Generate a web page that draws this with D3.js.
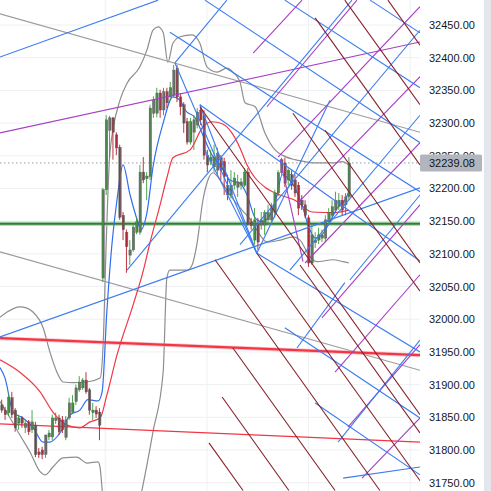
<!DOCTYPE html>
<html><head><meta charset="utf-8">
<script src="https://cdn.jsdelivr.net/npm/d3@7"></script>
<style>html,body{margin:0;padding:0;background:#fff;}svg{display:block;}</style>
</head><body>
<svg id="c" width="491" height="491"></svg>
<script>
// ---------- DATA ----------
const priceTicks = [31750,31800,31850,31900,31950,32000,32050,32100,32150,32200,32250,32300,32350,32400,32450];
const timeGrid = [30.6, 60.8, 90.9, 121.1];
const lastPrice = 32239.08;
// [open, high, low, close]
const candles = [
[31869,31877,31857,31861],[31861,31866,31846,31854],[31857,31887,31852,31880],[31880,31889,31849,31854],
[31861,31864,31828,31834],[31841,31854,31831,31849],[31849,31852,31834,31841],[31834,31846,31826,31841],
[31843,31846,31823,31828],[31831,31861,31826,31843],[31838,31843,31789,31793],[31797,31803,31788,31793],
[31800,31805,31786,31793],[31793,31800,31788,31823],[31820,31831,31815,31826],[31820,31854,31815,31849],
[31845,31857,31840,31849],[31849,31854,31823,31828],[31846,31852,31826,31831],[31819,31852,31815,31846],
[31849,31880,31846,31872],[31858,31884,31855,31872],[31874,31900,31869,31895],[31892,31913,31889,31904],
[31895,31910,31892,31907],[31907,31919,31886,31889],[31892,31895,31854,31861],[31857,31872,31846,31861],
[31861,31867,31849,31855],[31858,31864,31815,31838],[32063,32201,32057,32198],[32198,32312,32190,32305],
[32289,32311,32247,32308],[32308,32309,32244,32286],[32282,32286,32251,32262],[32263,32267,32152,32156],
[32159,32164,32121,32137],[32133,32137,32071,32111],[32098,32121,32083,32106],[32106,32144,32103,32141],
[32133,32155,32130,32149],[32133,32236,32129,32225],[32225,32248,32208,32213],[32215,32225,32182,32219],
[32218,32328,32213,32323],[32315,32341,32308,32335],[32315,32354,32309,32346],[32346,32351,32308,32320],
[32320,32354,32312,32348],[32348,32354,32323,32331],[32340,32363,32335,32354],[32343,32389,32340,32381],
[32384,32389,32332,32340],[32340,32346,32312,32325],[32328,32332,32285,32300],[32302,32308,32267,32271],
[32271,32308,32267,32302],[32286,32312,32259,32305],[32297,32323,32292,32317],[32320,32328,32297,32305],
[32312,32320,32244,32251],[32251,32259,32225,32236],[32241,32259,32236,32248],[32233,32267,32225,32248],
[32228,32262,32221,32254],[32247,32251,32213,32228],[32241,32247,32190,32218],[32205,32221,32182,32190],
[32190,32228,32185,32205],[32205,32225,32198,32216],[32202,32221,32187,32210],[32205,32216,32198,32210],
[32205,32231,32202,32225],[32225,32231,32143,32147],[32149,32155,32137,32143],[32121,32170,32114,32152],
[32147,32155,32106,32118],[32144,32164,32137,32152],[32144,32167,32129,32163],[32152,32175,32144,32163],
[32152,32178,32149,32170],[32163,32198,32155,32193],[32193,32228,32188,32224],[32224,32247,32221,32244],
[32239,32247,32202,32208],[32213,32231,32205,32228],[32221,32228,32198,32205],[32213,32221,32187,32193],
[32205,32210,32159,32170],[32182,32190,32167,32175],[32175,32182,32155,32159],[32155,32159,32080,32086],
[32086,32144,32083,32129],[32117,32133,32109,32121],[32121,32140,32115,32129],[32124,32137,32118,32129],
[32124,32159,32118,32152],[32149,32170,32143,32163],[32159,32182,32155,32172],[32167,32195,32164,32182],
[32172,32193,32167,32182],[32182,32190,32159,32167],[32175,32193,32159,32187],[32187,32248,32182,32239.08]
];
// [bar index, price]
const blueMA = [[-0.6,31926],[0.9,31910],[3.3,31858],[6.2,31849],[9.2,31835],[12.2,31812],[14.2,31812],[17.2,31826],
[20.2,31854],[23.1,31861],[25.5,31877],[28.5,31875],[29.7,31889],[31.1,32011],[32.6,32114],[34.1,32182],[35.9,32236],
[38.0,32190],[40.3,32149],[41.2,32137],[43.0,32163],[44.8,32233],[47.8,32300],[50.7,32340],[52.8,32335],[54.3,32320],
[57.3,32308],[60.2,32274],[62.3,32251],[64.7,32236],[67.6,32213],[70.6,32208],[72.7,32190],[75.1,32155],[77.1,32149],
[79.5,32159],[81.6,32190],[83.1,32221],[84.8,32216],[86.9,32201],[89.0,32175],[90.8,32144],[92.9,32124],[94.9,32129],
[97.3,32149],[99.7,32172],[101.7,32182],[102.9,32195]];
const redMA = [[-0.6,31938],[5.3,31919],[11.3,31889],[15.1,31858],[19.3,31838],[23.1,31834],[26.1,31843],[29.1,31849],
[31.1,31884],[34.1,31945],[38.9,32022],[41.8,32072],[43.9,32117],[46.9,32175],[48.9,32216],[50.7,32247],[55.8,32259],
[59.6,32294],[62.3,32302],[65.3,32299],[68.2,32285],[70.6,32262],[72.7,32236],[75.1,32216],[78.0,32202],[82.5,32190],
[86.9,32182],[92.0,32164],[97.9,32163],[102.9,32167]];
const bbUpper = [[-0.6,32003],[1.5,32011],[5.3,32019],[7.4,32017],[9.2,32011],[12.2,31987],[14.2,31950],[16.3,31919],
[18.1,31904],[21.1,31903],[25.2,31904],[29.1,31910],[30.0,31961],[30.9,32114],[32.0,32254],[35.0,32335],[37.1,32361],
[40.9,32386],[43.0,32412],[44.8,32442],[46.3,32447],[47.8,32439],[49.2,32393],[50.7,32422],[52.8,32432],[56.4,32435],
[58.7,32422],[60.8,32386],[63.8,32378],[66.7,32384],[68.5,32378],[70.6,32363],[72.1,32331],[75.1,32325],[78.0,32285],
[81.0,32259],[83.1,32251],[86.9,32244],[89.9,32241],[92.0,32239],[97.9,32239],[100.9,32241],[102.9,32236]];
const bbLower = [[-0.6,31874],[2.4,31849],[5.3,31823],[8.3,31797],[11.3,31767],[12.8,31762],[15.1,31774],[18.1,31788],
[22.2,31789],[25.2,31780],[28.5,31782],[29.1,31773],[30.0,31724],[35.0,31632],[40.9,31724],[44.8,31828],[47.8,31919],
[48.9,32063],[49.8,32075],[54.9,32075],[56.4,32083],[57.8,32114],[59.6,32182],[61.1,32213],[62.6,32224],[64.7,32213],
[67.6,32190],[71.2,32167],[74.2,32149],[76.5,32129],[78.6,32118],[82.5,32121],[86.3,32126],[88.4,32121],[91.4,32095],
[93.4,32088],[98.2,32091],[101.2,32088],[102.9,32086]];
// drawn trend lines: [index1, price1, index2, price2]
const greyLines = [[-0.6,32467,124,32286],[-0.6,32103,124,31922]];
const greenLevel = [[-0.6,32146,124,32146]];
const redThick = [[-0.6,31971,124,31945]];
const redThin = [[-0.6,31840,124,31812]];
const purpleLines = [[-0.6,32285,124,32424],
[74.5,32407,89.0,32488],[78.6,32325,105.3,32488],[81.9,32248,124,32478],[87.8,32178,124,32371],
[89.9,32086,124,32270],[98.8,31919,124,32068],[102.6,31835,124,31961],[106.8,31757,124,31849],
[94.9,32002,124,32175],[82.5,32244,89.3,32088]];
const blueLines = [[-0.6,32401,46.3,32488],[-0.6,31973,124,32201],
[49.8,32439,124,32195],[60.2,32488,124,32270],[83.9,32488,124,32354],[109.2,32488,124,32438],
[58.7,32328,124,32089],[75.6,32101,124,31950],[83.9,31987,124,31849],[92.9,31872,124,31762],
[51.3,32392,75.6,32101],[58.7,32328,75.6,32101],[60.2,32259,75.6,32101],
[37.1,32075,103.8,32488],[51.3,32392,66.7,32488],[75.6,32101,97.3,32335],[70.6,32114,124,32442],
[85.4,32075,124,32312],[103.2,32060,124,32190],[87.5,31956,101.7,32056],[99.7,31812,124,31968],
[101.2,31757,124,31774]];
const maroonLines = [[114.5,32488,124,32419],[101.7,32488,124,32328],[92.9,32461,124,32236],[86.3,32315,124,32043],
[58.7,32325,124,31854],[63.2,32091,112.1,31738],[68.5,31956,98.8,31738],[65.3,31881,85.1,31738],
[61.4,31811,71.5,31738],[75.6,32101,126.1,31738],[88.4,32083,124,31826],[95.8,32289,124,32086]];

// ---------- DRAW ----------
const W = 491, H = 491, PR = 420;
const x = d3.scaleLinear().domain([0,124]).range([2,PR]);
const y = d3.scaleLinear().domain([31750,32450]).range([482.7,25]);
const svg = d3.select('#c');
svg.append('rect').attr('x',484).attr('y',0).attr('width',7).attr('height',H).attr('fill','#e4e6eb');
svg.append('defs').append('clipPath').attr('id','plot').append('rect')
  .attr('x',0).attr('y',0).attr('width',PR).attr('height',H);
const g = svg.append('g').attr('clip-path','url(#plot)');

g.selectAll(null).data(priceTicks).join('line')
  .attr('x1',0).attr('x2',PR).attr('y1',d=>y(d)).attr('y2',d=>y(d))
  .attr('stroke','#eef0f3').attr('stroke-width',1);
g.selectAll(null).data(timeGrid).join('line')
  .attr('x1',d=>x(d)).attr('x2',d=>x(d)).attr('y1',0).attr('y2',H)
  .attr('stroke','#eef0f3').attr('stroke-width',1);

const curve = d3.line().x(d=>x(d[0])).y(d=>y(d[1])).curve(d3.curveMonotoneX);
function seg(data, color, w, op){
  g.selectAll(null).data(data).join('line')
    .attr('x1',d=>x(d[0])).attr('y1',d=>y(d[1])).attr('x2',d=>x(d[2])).attr('y2',d=>y(d[3]))
    .attr('stroke',color).attr('stroke-width',w).attr('stroke-opacity',op||1);
}

// bands
[bbUpper,bbLower].forEach(b=>g.append('path').attr('d',curve(b)).attr('fill','none')
  .attr('stroke','#8e8e8e').attr('stroke-width',1.2));

// horizontal/long levels
seg(greyLines,'#9c9c9c',1.1);
seg(greenLevel,'#a5d6a7',4.5,0.8);
seg(greenLevel,'#2e7d32',2.2);
seg(redThick,'#f7a0a8',4,0.6);
seg(redThick,'#f23645',2.2);
seg(redThin,'#f23645',1.1);

// dotted last price line
g.append('line').attr('x1',0).attr('x2',PR).attr('y1',y(lastPrice)).attr('y2',y(lastPrice))
  .attr('stroke','#9598a1').attr('stroke-width',1).attr('stroke-dasharray','1.5,2.5');

// moving averages
g.append('path').attr('d',curve(redMA)).attr('fill','none').attr('stroke','#f23645').attr('stroke-width',1.2);
g.append('path').attr('d',curve(blueMA)).attr('fill','none').attr('stroke','#2f6ef0').attr('stroke-width',1.2);

// candles
const cw = 2.4;
g.selectAll(null).data(candles).join('rect')
  .attr('x',(d,i)=>x(i)-cw/2).attr('width',cw)
  .attr('y',d=>y(Math.max(d[0],d[3])))
  .attr('height',d=>Math.max(1,Math.abs(y(d[0])-y(d[3]))))
  .attr('fill','#6a6a6a').attr('stroke','#555').attr('stroke-width',0.4);
g.selectAll(null).data(candles).join('line')
  .attr('x1',(d,i)=>x(i)-0.3).attr('x2',(d,i)=>x(i)-0.3)
  .attr('y1',d=>y(d[1])).attr('y2',d=>y(d[2]))
  .attr('stroke',d=>d[3]>=d[0]?'#3c9a3c':'#b71c2c').attr('stroke-width',0.9);

// drawn lines on top
seg(purpleLines,'#a63fc2',1.1);
seg(blueLines,'#3b7cf2',1.1);
seg(maroonLines,'#85202a',1.1);

// axis labels
svg.selectAll(null).data(priceTicks).join('text')
  .attr('x',429).attr('y',d=>y(d)+4)
  .attr('font-family','Liberation Sans, Arial, sans-serif').attr('font-size',11)
  .attr('fill','#131722').text(d=>d.toFixed(2));

// last price label
svg.append('rect').attr('x',420).attr('y',y(lastPrice)-8.5).attr('width',62).attr('height',17)
  .attr('rx',1.5).attr('fill','#b2b5be');
svg.append('text').attr('x',429).attr('y',y(lastPrice)+4)
  .attr('font-family','Liberation Sans, Arial, sans-serif').attr('font-size',11)
  .attr('fill','#131722').text(lastPrice.toFixed(2));
</script>
</body></html>
